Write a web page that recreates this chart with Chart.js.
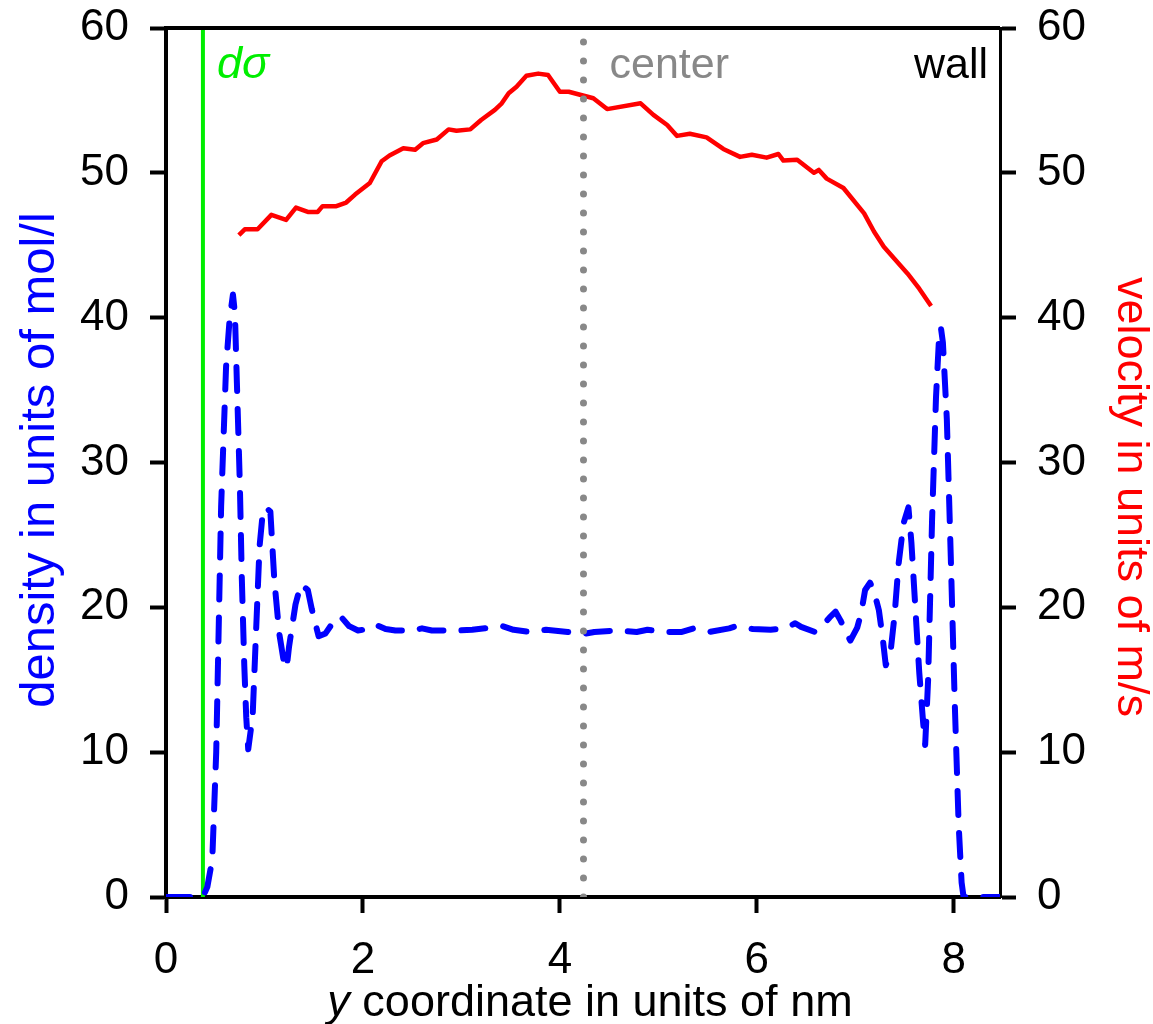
<!DOCTYPE html>
<html>
<head>
<meta charset="utf-8">
<title>Density and velocity profile</title>
<style>
  body { margin: 0; background: #fff; }
  canvas { display: block; }
</style>
</head>
<body>
<canvas id="profile" width="1153" height="1024"></canvas>

<script src="https://cdn.jsdelivr.net/npm/chart.js"></script>
<script>
// density (blue dashed, left axis)
const densX = [0, 0.375, 0.42, 0.47, 0.51, 0.56, 0.61, 0.645, 0.68, 0.70, 0.72, 0.75, 0.77, 0.795, 0.815, 0.835,
  0.88, 0.915, 0.95, 0.985, 1.015, 1.06, 1.10, 1.15, 1.20, 1.225, 1.25, 1.315, 1.37, 1.44, 1.48, 1.55, 1.62, 1.68,
  1.77, 1.86, 1.95, 2.05, 2.13, 2.23, 2.33, 2.50, 2.60, 2.70, 2.80, 2.95, 3.11, 3.24, 3.42, 3.53, 3.69, 3.86, 4.08,
  4.23, 4.35, 4.58, 4.78, 4.89, 5.05, 5.24, 5.36, 5.52, 5.72, 5.79, 5.96, 6.14, 6.29, 6.39, 6.45, 6.59, 6.65, 6.74,
  6.80, 6.85, 6.92, 6.95, 7.02, 7.06, 7.10, 7.15, 7.19, 7.24, 7.28, 7.31, 7.36, 7.40, 7.44, 7.49, 7.54, 7.57, 7.61,
  7.65, 7.69, 7.71, 7.74, 7.78, 7.82, 7.85, 7.87, 7.89, 7.93, 7.97, 8.01, 8.05, 8.08, 8.10, 8.47]
const densY = [0, 0, 0.7, 2.6, 10, 27, 36.6, 39.8, 41.6, 40.3, 35.5, 28.5, 22, 16, 12.4, 10.2,
  12.5, 18.4, 24.2, 26.7, 26.9, 26.6, 21.9, 18.2, 16.1, 15.8, 17.3, 20.2, 21.6, 21.2, 19.9, 18.0, 18.2, 18.8,
  19.4, 18.7, 18.4, 18.5, 18.8, 18.5, 18.4, 18.4, 18.55, 18.4, 18.4, 18.4, 18.45, 18.55, 18.7, 18.45, 18.3, 18.45, 18.3,
  18.15, 18.3, 18.4, 18.3, 18.45, 18.3, 18.3, 18.55, 18.3, 18.55, 18.7, 18.5, 18.45, 18.55, 18.9, 18.65, 18.3, 18.6, 19.3,
  19.7, 19.1, 18.1, 17.7, 18.6, 19.6, 21.2, 21.7, 21.1, 19.8, 17.8, 16.0, 17.0, 19.5, 23.0, 25.8, 26.9, 24.5, 20.0,
  15.5, 12.0, 10.5, 15.0, 26, 34.5, 38.5, 39.3, 38.3, 33, 23.5, 13.5, 5, 1.0, 0, 0]

// velocity (red, right axis)
const velX = [0.74, 0.80, 0.93, 1.07, 1.22, 1.32, 1.44, 1.54, 1.59, 1.73, 1.83, 1.92, 2.07, 2.19, 2.27, 2.41, 2.53,
  2.61, 2.75, 2.87, 2.95, 3.09, 3.20, 3.34, 3.41, 3.48, 3.56, 3.66, 3.78, 3.88, 4.00, 4.09, 4.34, 4.48, 4.82, 4.95,
  5.09, 5.19, 5.32, 5.49, 5.66, 5.83, 5.95, 6.10, 6.22, 6.27, 6.41, 6.58, 6.63, 6.71, 6.88, 7.09, 7.19, 7.29, 7.53,
  7.65, 7.77]
const velY = [45.7, 46.1, 46.1, 47.1, 46.75, 47.6, 47.3, 47.3, 47.7, 47.7, 47.95, 48.5, 49.3, 50.8, 51.2, 51.7, 51.6,
  52.05, 52.3, 53.0, 52.9, 53.0, 53.65, 54.35, 54.8, 55.5, 55.95, 56.7, 56.85, 56.75, 55.6, 55.6, 55.15, 54.4, 54.8, 54.0,
  53.3, 52.55, 52.7, 52.45, 51.65, 51.1, 51.25, 51.05, 51.3, 50.85, 50.9, 50.0, 50.2, 49.6, 48.95, 47.2, 45.95, 44.9, 43.05,
  42.0, 40.8]

const xTicks = [0, 2, 4, 6, 8]
const yTicks = [0, 10, 20, 30, 40, 50, 60]
const xMax = 8.47
const sigmaX = [0.375, 0.375]
const centerX = [4.24, 4.24]
const markerY = [0, 60]

const FONT = '"Liberation Sans", Arial, sans-serif'

function pairs(xs, ys) {
    return xs.map((x, i) => ({ x: x, y: ys[i] }))
}

function fixTicks(values) {
    return (scale) => { scale.ticks = values.map(v => ({ value: v })) }
}

// fixed width for the y scales, no extra room for half labels
function fixWidth(w) {
    return (s) => {
        s.width = w
        s.paddingTop = 0
        s.paddingBottom = 0
    }
}

function rotatedText(ctx, text, x, y, angle) {
    ctx.save()
    ctx.translate(x, y)
    ctx.rotate(angle)
    ctx.textAlign = 'center'
    ctx.textBaseline = 'middle'
    ctx.fillText(text, 0, 0)
    ctx.restore()
}

// top frame line, annotations, axis titles (x title has an italic y)
const annotations = {
    id: 'annotations',
    afterDraw(chart) {
        const ctx = chart.ctx
        const area = chart.chartArea
        const x = chart.scales.x
        ctx.save()

        ctx.strokeStyle = '#000'
        ctx.lineWidth = 4
        ctx.beginPath()
        ctx.moveTo(area.left, area.top)
        ctx.lineTo(area.right, area.top)
        ctx.stroke()

        ctx.textBaseline = 'alphabetic'
        const base = area.top + 50

        ctx.font = 'italic 45px ' + FONT
        ctx.fillStyle = '#00ee00'
        ctx.textAlign = 'left'
        ctx.fillText('dσ', x.getPixelForValue(sigmaX[0]) + 14, base)

        ctx.font = '43px ' + FONT
        ctx.fillStyle = '#888888'
        ctx.fillText('center', x.getPixelForValue(centerX[0]) + 26, base)

        ctx.fillStyle = '#000'
        ctx.textAlign = 'right'
        ctx.fillText('wall', area.right - 12, base)

        // x axis title
        const first = 'y'
        const rest = ' coordinate in units of nm'
        ctx.font = 'italic 45px ' + FONT
        const w1 = ctx.measureText(first).width
        ctx.font = '45px ' + FONT
        const w2 = ctx.measureText(rest).width
        const start = (area.left + area.right) / 2 + 7 - (w1 + w2) / 2
        ctx.textAlign = 'left'
        ctx.font = 'italic 45px ' + FONT
        ctx.fillText(first, start, 1016)
        ctx.font = '45px ' + FONT
        ctx.fillText(rest, start + w1, 1016)

        // y axis titles
        ctx.font = '49px ' + FONT
        ctx.fillStyle = '#0000ff'
        rotatedText(ctx, 'density in units of mol/l', 40, 460, -Math.PI / 2)
        ctx.font = '45px ' + FONT
        ctx.fillStyle = '#ff0000'
        rotatedText(ctx, 'velocity in units of m/s', 1130, 497, Math.PI / 2)

        ctx.restore()
    }
}

const tickFont = { family: FONT, size: 44 }
const axisGrid = { drawOnChartArea: false, drawTicks: true, tickLength: 16, tickWidth: 4, tickColor: '#000' }

new Chart(document.getElementById('profile'), {
    type: 'line',
    data: {
        datasets: [
            {
                label: 'center',
                data: pairs(centerX, markerY),
                yAxisID: 'y',
                borderColor: '#888888',
                borderWidth: 7,
                borderDash: [0, 19],
                borderCapStyle: 'round',
                pointRadius: 0,
                order: 0
            },
            {
                label: 'density',
                data: pairs(densX, densY),
                yAxisID: 'y',
                borderColor: '#0000ff',
                borderWidth: 6,
                borderDash: [24, 18],
                borderCapStyle: 'round',
                borderJoinStyle: 'round',
                pointRadius: 0,
                order: 1
            },
            {
                label: 'velocity',
                data: pairs(velX, velY),
                yAxisID: 'y2',
                borderColor: '#ff0000',
                borderWidth: 4.5,
                borderJoinStyle: 'round',
                pointRadius: 0,
                order: 2
            },
            {
                label: 'dsigma',
                data: pairs(sigmaX, markerY),
                yAxisID: 'y',
                borderColor: '#00ee00',
                borderWidth: 4,
                pointRadius: 0,
                order: 3
            }
        ]
    },
    options: {
        responsive: false,
        animation: false,
        devicePixelRatio: 1,
        layout: { padding: { top: 28, left: 0, right: 0, bottom: 0 } },
        plugins: {
            legend: { display: false },
            tooltip: { enabled: false }
        },
        scales: {
            x: {
                type: 'linear',
                position: 'bottom',
                min: 0,
                max: xMax,
                afterBuildTicks: fixTicks(xTicks),
                afterFit: (s) => { s.height = 127 },
                ticks: { font: tickFont, color: '#000', padding: 21 },
                grid: axisGrid,
                border: { display: true, color: '#000', width: 4 }
            },
            y: {
                type: 'linear',
                position: 'left',
                min: 0,
                max: 60,
                afterBuildTicks: fixTicks(yTicks),
                afterFit: fixWidth(166),
                ticks: { font: tickFont, color: '#000', padding: 21 },
                grid: axisGrid,
                border: { display: true, color: '#000', width: 4 }
            },
            y2: {
                type: 'linear',
                position: 'right',
                min: 0,
                max: 60,
                afterBuildTicks: fixTicks(yTicks),
                afterFit: fixWidth(153),
                ticks: { font: tickFont, color: '#000', padding: 21 },
                grid: axisGrid,
                border: { display: true, color: '#000', width: 3 }
            }
        }
    },
    plugins: [annotations]
});
</script>
</body>
</html>
